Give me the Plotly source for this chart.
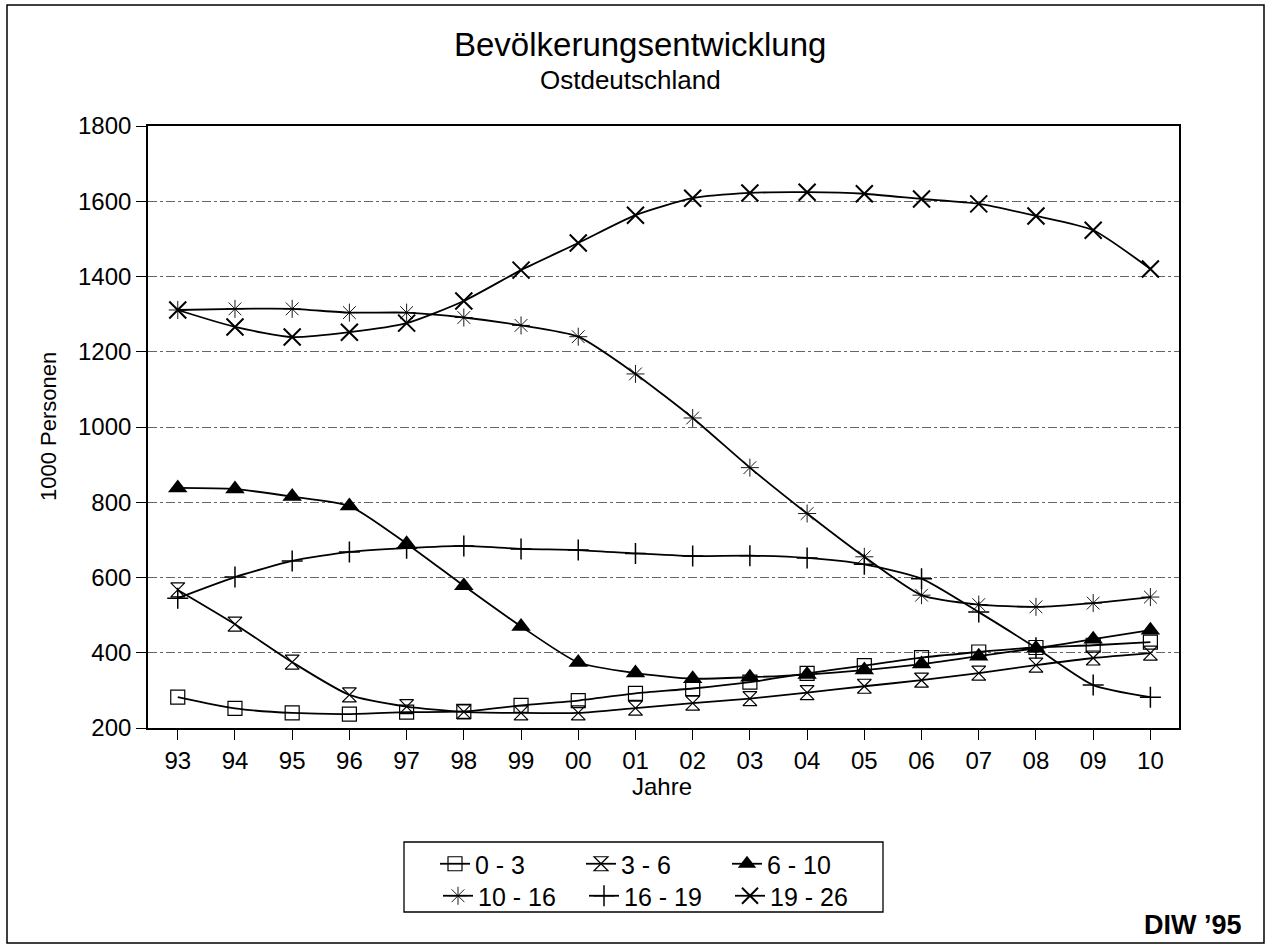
import plotly.graph_objects as go

years = ["93", "94", "95", "96", "97", "98", "99", "00", "01", "02",
         "03", "04", "05", "06", "07", "08", "09", "10"]

s0_3 = [282, 252, 240, 237, 242, 244, 260, 273, 292, 305, 322, 345, 366, 387, 402, 414, 420, 428]
s3_6 = [567, 476, 375, 288, 257, 243, 240, 240, 253, 266, 278, 294, 311, 327, 346, 367, 386, 399]
s6_10 = [838, 835, 815, 790, 690, 578, 470, 374, 346, 331, 335, 342, 354, 370, 391, 412, 436, 460]
s10_16 = [1311, 1314, 1314, 1304, 1304, 1291, 1270, 1240, 1141, 1024, 892, 770, 655, 553, 528, 522, 532, 548]
s16_19 = [545, 601, 644, 668, 678, 684, 676, 673, 664, 657, 658, 652, 635, 597, 508, 413, 314, 282]
s19_26 = [1311, 1266, 1239, 1252, 1276, 1335, 1417, 1489, 1563, 1608, 1622, 1624, 1620, 1606, 1593, 1561, 1523, 1420]

series_names = ["0 - 3", "3 - 6", "6 - 10", "10 - 16", "16 - 19", "19 - 26"]
series_values = [s0_3, s3_6, s6_10, s10_16, s16_19, s19_26]
y_ticks = [200, 400, 600, 800, 1000, 1200, 1400, 1600, 1800]

FONT = "Liberation Sans, Arial, sans-serif"

styles = [
    dict(symbol="square-open", size=14, line=dict(width=1.2, color="#222")),
    dict(symbol="hourglass-open", size=14, line=dict(width=1.2, color="#222")),
    dict(symbol="triangle-up", size=17, color="black", line=dict(width=0)),
    dict(symbol="asterisk-open", size=15, line=dict(width=0.9, color="#555")),
    dict(symbol="cross-thin-open", size=15, line=dict(width=1.5, color="black")),
    dict(symbol="x-thin-open", size=17, line=dict(width=2, color="black")),
]
legends = ["legend", "legend", "legend", "legend2", "legend2", "legend2"]

fig = go.Figure()
for name, vals, st, lg in zip(series_names, series_values, styles, legends):
    mk = dict(st)
    if "color" not in mk:
        mk["color"] = "black"
    fig.add_trace(go.Scatter(
        x=years, y=vals, name=name, mode="lines+markers",
        line=dict(color="black", width=1.8, shape="spline", smoothing=0.6),
        marker=mk, legend=lg, cliponaxis=False,
    ))

W, H = 1270, 949
L, R, T, B = 148, 91, 126, 221
pw, ph = W - L - R, H - T - B

def px(x):
    return (x - L) / pw

def py(y):
    return (H - B - y) / ph

legend_common = dict(
    orientation="h", xanchor="left", yanchor="top",
    font=dict(family=FONT, size=25, color="black"),
    bgcolor="rgba(0,0,0,0)", borderwidth=0,
    entrywidth=101, entrywidthmode="pixels", itemwidth=30,
    traceorder="normal",
)

fig.update_layout(
    width=W, height=H,
    margin=dict(l=L, r=R, t=T, b=B, pad=0),
    paper_bgcolor="white", plot_bgcolor="white",
    font=dict(family=FONT, color="black"),
    showlegend=True,
    legend=dict(x=px(435), y=py(841), **legend_common),
    legend2=dict(x=px(438), y=py(873), **legend_common),
    xaxis=dict(
        type="category", range=[-0.52, 17.5],
        showline=True, linecolor="black", linewidth=1.6, mirror=True,
        ticks="outside", ticklen=10, tickwidth=1.4, tickcolor="black",
        showgrid=False, zeroline=False,
        tickfont=dict(family=FONT, size=24, color="black"),
    ),
    yaxis=dict(
        range=[200, 1800], tickvals=y_ticks,
        showline=True, linecolor="black", linewidth=1.6, mirror=True,
        ticks="outside", ticklen=10, tickwidth=1.4, tickcolor="black",
        showgrid=True, gridcolor="#666", gridwidth=1, griddash="dashdot",
        zeroline=False,
        tickfont=dict(family=FONT, size=24, color="black"),
    ),
    shapes=[
        dict(type="rect", xref="paper", yref="paper",
             x0=px(7), x1=px(1264), y0=py(943), y1=py(5),
             line=dict(color="black", width=1.5), layer="below"),
        dict(type="rect", xref="paper", yref="paper",
             x0=px(404), x1=px(883), y0=py(912), y1=py(842),
             line=dict(color="black", width=1.3), layer="below"),
    ],
    annotations=[
        dict(text="Bevölkerungsentwicklung", xref="paper", yref="paper",
             x=px(640), y=py(44), showarrow=False, xanchor="center", yanchor="middle",
             font=dict(family=FONT, size=33, color="black")),
        dict(text="Ostdeutschland", xref="paper", yref="paper",
             x=px(630), y=py(80), showarrow=False, xanchor="center", yanchor="middle",
             font=dict(family=FONT, size=26, color="black")),
        dict(text="1000 Personen", xref="paper", yref="paper",
             x=px(48), y=0.5, showarrow=False, textangle=-90,
             xanchor="center", yanchor="middle",
             font=dict(family=FONT, size=22, color="black")),
        dict(text="Jahre", xref="paper", yref="paper",
             x=px(662), y=py(786), showarrow=False, xanchor="center", yanchor="middle",
             font=dict(family=FONT, size=24, color="black")),
        dict(text="<b>DIW ’95</b>", xref="paper", yref="paper",
             x=px(1244), y=py(925), showarrow=False, xanchor="right", yanchor="middle",
             font=dict(family=FONT, size=27, color="black")),
    ],
)

fig.write_html("out.html", config={"displayModeBar": False},
               post_script="document.body.style.margin='0';document.body.style.overflow='hidden';")
